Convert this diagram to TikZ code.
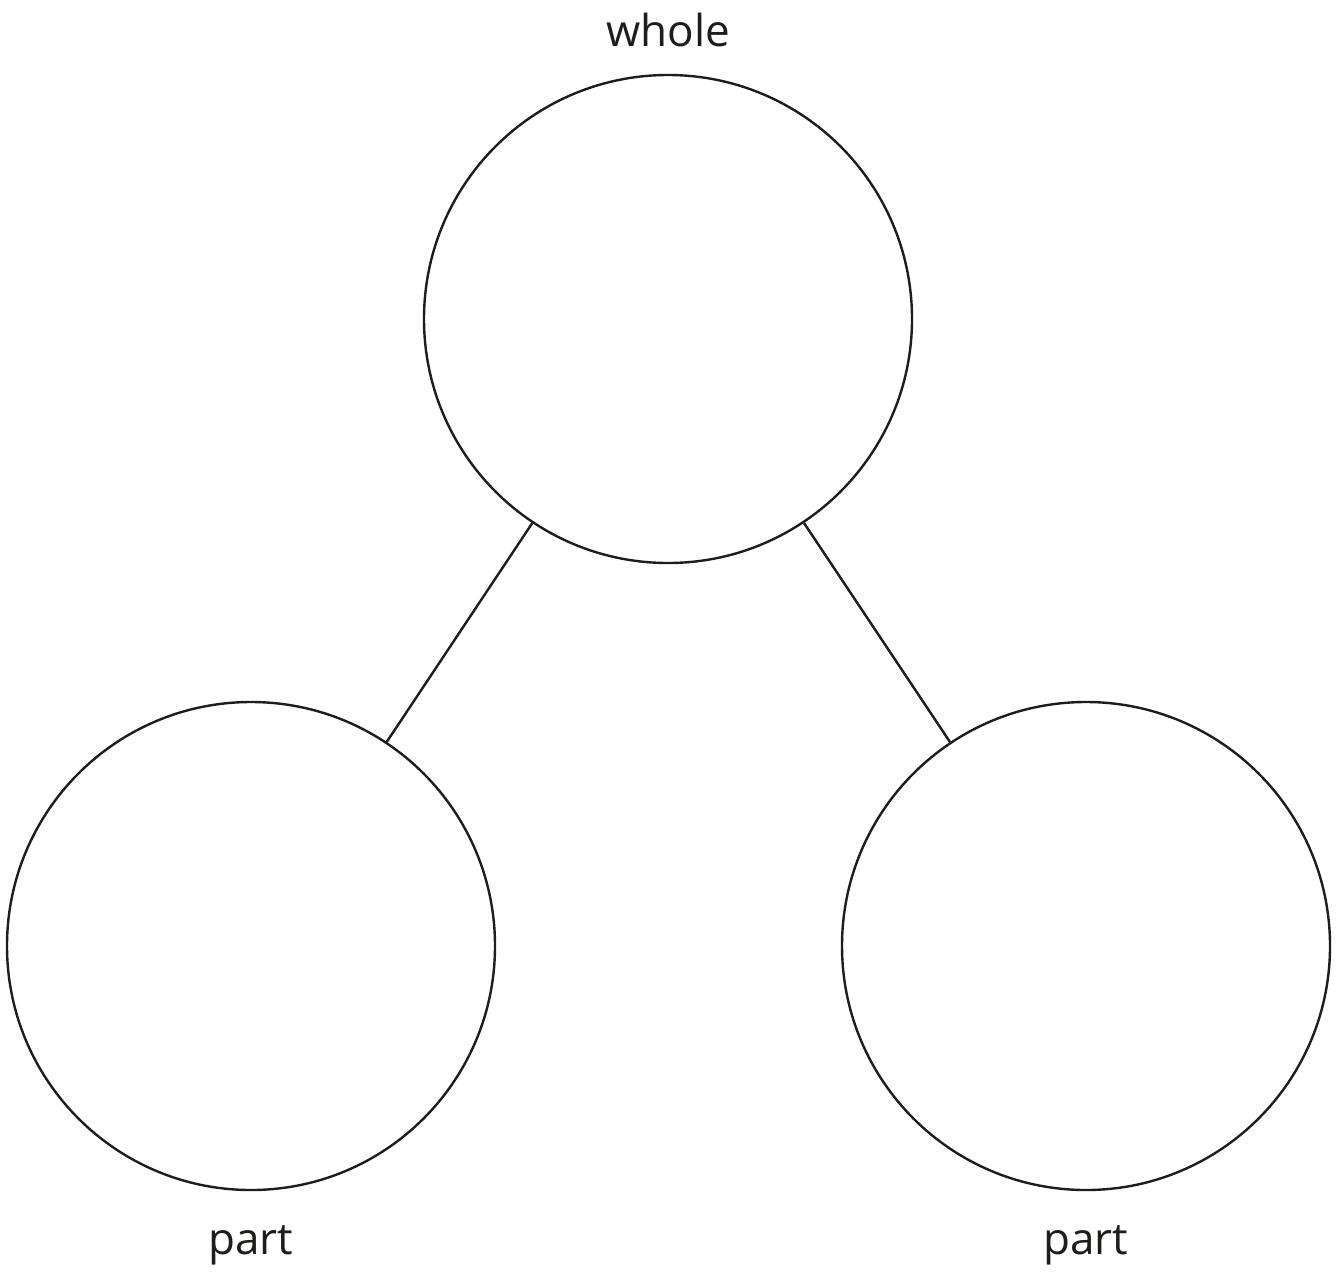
\documentclass[tikz,border=0pt]{standalone}
\usepackage{fontspec}
\setmainfont{Open Sans}
\usepackage{tikz}
\definecolor{inkdark}{HTML}{1D1D1B}
\tikzset{
  partcircle/.style={draw=inkdark,line width=1.2pt,circle,minimum size=244pt,inner sep=0pt},
  partlabel/.style={text=inkdark,font=\fontsize{22}{26}\selectfont,anchor=base,inner sep=0pt}
}

\begin{document}
\begin{tikzpicture}[x=0.5pt,y=-0.5pt]
			\useasboundingbox (0,0) rectangle (1342,1274);
			\node[partcircle] (whole) at (668,319) {};
			\node[partcircle] (left) at (251,946) {};
			\node[partcircle] (right) at (1086,946) {};
			\draw [inkdark,line width=1.2pt] (whole)-- (left);
			\draw [inkdark,line width=1.2pt] (whole)-- (right);
			\node[partlabel] (wholetext) at (668,46) {whole};
			\node[partlabel] (lefttext) at (251,1254) {part};
			\node[partlabel] (righttext) at (1086,1254) {part};
		\end{tikzpicture}
\end{document}
